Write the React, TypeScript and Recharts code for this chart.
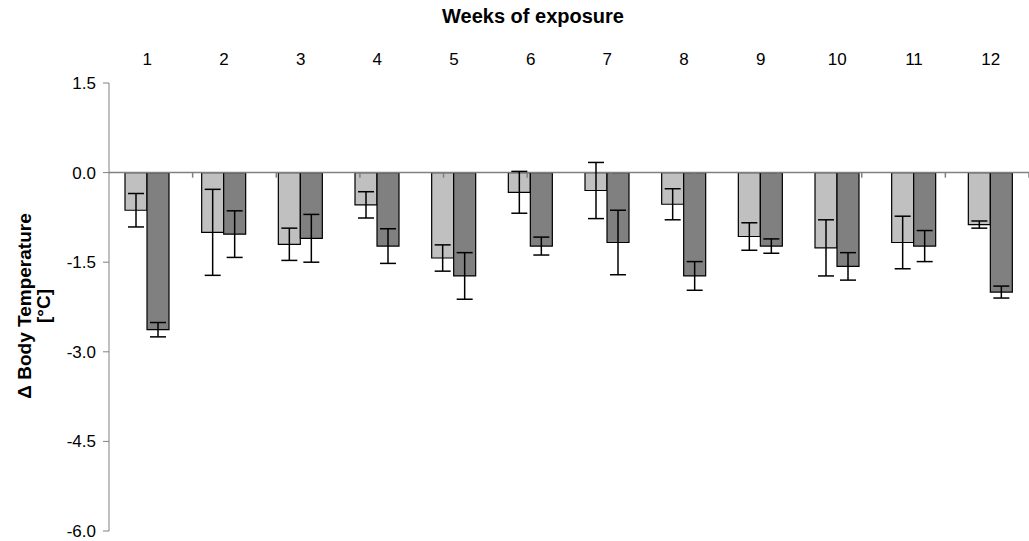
import { BarChart, Bar, XAxis, YAxis, ReferenceLine, ErrorBar } from "recharts";

const weeks = ["1", "2", "3", "4", "5", "6", "7", "8", "9", "10", "11", "12"];
const lightMeans = [-0.63, -1.0, -1.2, -0.54, -1.43, -0.33, -0.3, -0.53, -1.07, -1.26, -1.17, -0.87];
const lightErr = [0.28, 0.72, 0.27, 0.22, 0.22, 0.35, 0.47, 0.26, 0.23, 0.47, 0.44, 0.06];
const darkMeans = [-2.63, -1.03, -1.1, -1.23, -1.73, -1.23, -1.17, -1.73, -1.23, -1.57, -1.23, -2.0];
const darkErr = [0.12, 0.39, 0.4, 0.29, 0.39, 0.15, 0.54, 0.24, 0.12, 0.23, 0.26, 0.1];
const yTicks = [-6, -4.5, -3, -1.5, 0, 1.5];

const data = weeks.map((w, i) => ({
    week: w,
    light: lightMeans[i],
    lightErr: lightErr[i],
    dark: darkMeans[i],
    darkErr: darkErr[i],
}));

// boundaries between weeks, used for the small ticks under the zero line
const boundaries = weeks.slice(1).map((_, i) => i + 1);

const FONT = '"Liberation Sans", Arial, sans-serif';
const AXIS = "#808080";

const WeekTick = (props: any) => {
    const { x, y, payload } = props;
    return (
        <text x={x} y={y} textAnchor="middle" fontFamily={FONT} fontSize={17} fill="#000">
            {payload.value}
        </text>
    );
};

const TitleLabel = (props: any) => {
    const { viewBox } = props;
    return (
        <text
            x={viewBox.x + viewBox.width / 2 - 36}
            y={23}
            textAnchor="middle"
            fontFamily={FONT}
            fontSize={20}
            fontWeight="bold"
            fill="#000"
        >
            Weeks of exposure
        </text>
    );
};

const YTitle = (props: any) => {
    const { viewBox } = props;
    const cy = viewBox.y + 223;
    return (
        <g fontFamily={FONT} fontSize={19} fontWeight="bold" fill="#000">
            <text x={31} y={cy} textAnchor="middle" transform={`rotate(-90, 31, ${cy})`}>
                Δ Body Temperature
            </text>
            <text x={50} y={cy} textAnchor="middle" transform={`rotate(-90, 50, ${cy})`}>
                [°C]
            </text>
        </g>
    );
};

export default function App() {
    return (
        <div style={{ position: "absolute", left: 0, top: 0, width: 1029, height: 541, background: "#fff" }}>
            <BarChart
                width={1029}
                height={541}
                data={data}
                margin={{ top: 0, right: 0, bottom: 10, left: 0 }}
                barCategoryGap={16}
                barGap={0}
            >
                <XAxis
                    dataKey="week"
                    orientation="top"
                    height={83}
                    axisLine={false}
                    tickLine={false}
                    tickSize={0}
                    tickMargin={0}
                    tick={(p: any) => <WeekTick {...p} y={65} />}
                    interval={0}
                    label={<TitleLabel />}
                />
                <XAxis xAxisId="edges" type="number" domain={[0, 12]} hide />
                <YAxis
                    domain={[-6, 1.5]}
                    ticks={yTicks}
                    width={109}
                    interval={0}
                    stroke={AXIS}
                    tickSize={6}
                    tickMargin={7}
                    tickFormatter={(v: number) => v.toFixed(1)}
                    tick={{ fill: "#000", fontSize: 17, fontFamily: FONT }}
                    label={<YTitle />}
                />
                <ReferenceLine y={0} stroke={AXIS} strokeWidth={1.5} />
                {boundaries.map((b) => (
                    <ReferenceLine
                        key={b}
                        xAxisId="edges"
                        stroke={AXIS}
                        strokeWidth={1.5}
                        segment={[
                            { x: b, y: 0 },
                            { x: b, y: -0.085 },
                        ]}
                    />
                ))}
                <Bar dataKey="light" fill="#c0c0c0" stroke="#000" strokeWidth={1.2} isAnimationActive={false}>
                    <ErrorBar dataKey="lightErr" width={8} stroke="#000" strokeWidth={1.5} />
                </Bar>
                <Bar dataKey="dark" fill="#808080" stroke="#000" strokeWidth={1.2} isAnimationActive={false}>
                    <ErrorBar dataKey="darkErr" width={8} stroke="#000" strokeWidth={1.5} />
                </Bar>
            </BarChart>
        </div>
    );
}
